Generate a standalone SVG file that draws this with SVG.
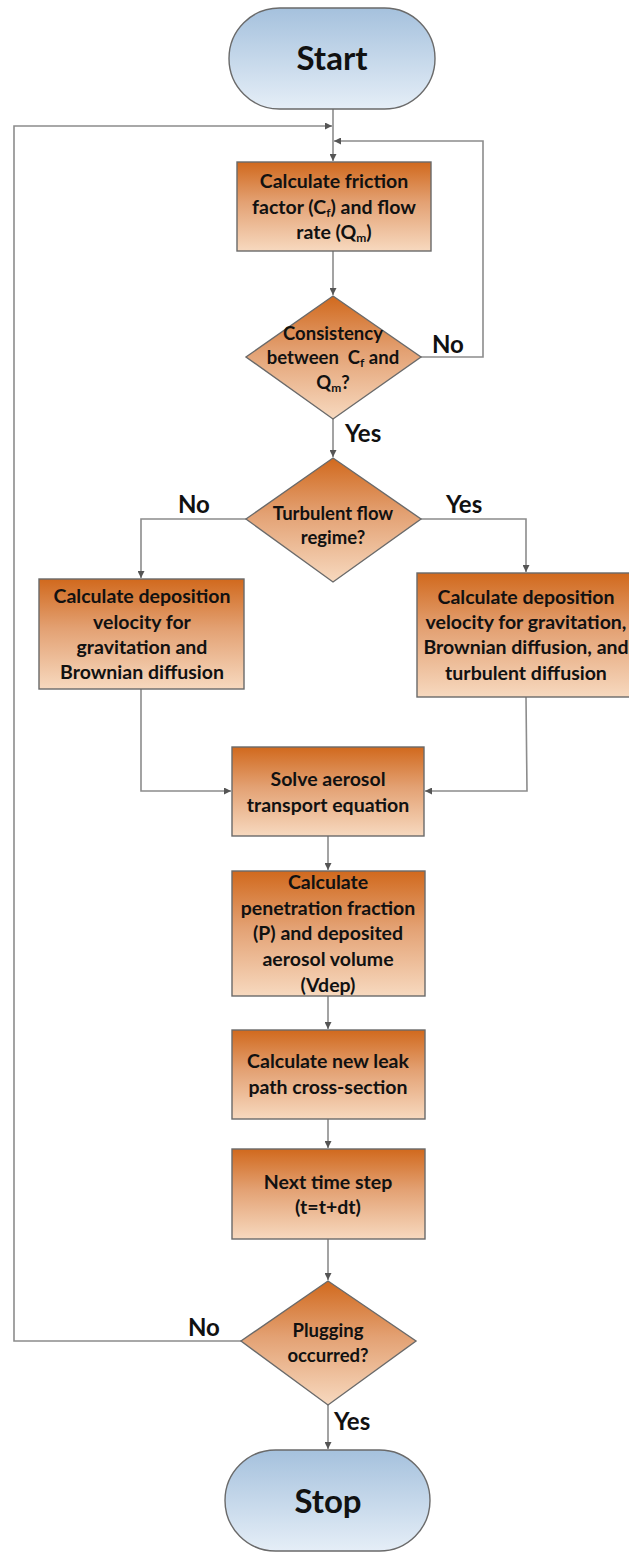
<svg xmlns="http://www.w3.org/2000/svg" width="629" height="1552" viewBox="0 0 629 1552">
<style>
.box{stroke:#6a6a6a;stroke-width:1.4;fill:url(#og)}
.term{stroke:#6a6a6a;stroke-width:1.4;fill:url(#bg)}
.t{font-family:Lato,"Liberation Sans",sans-serif;font-weight:bold;font-size:19.5px;fill:#111;text-anchor:middle}
.d{font-size:18.5px}
.big{font-size:33px}
.lbl{font-family:Lato,"Liberation Sans",sans-serif;font-weight:bold;font-size:24px;fill:#111}
.c{fill:none;stroke:#8c8c8c;stroke-width:1.6}
.sub{font-size:12px}
</style>
<defs>
<linearGradient id="og" x1="0" y1="0" x2="0" y2="1">
<stop offset="0" stop-color="#d1691d"/>
<stop offset="0.45" stop-color="#e3a173"/>
<stop offset="1" stop-color="#f7d9bf"/>
</linearGradient>
<linearGradient id="bg" x1="0" y1="0" x2="0" y2="1">
<stop offset="0" stop-color="#a5c1dd"/>
<stop offset="1" stop-color="#e5eef7"/>
</linearGradient>
<marker id="ah" viewBox="0 0 10 10" refX="10" refY="5" markerWidth="7" markerHeight="7" markerUnits="userSpaceOnUse" orient="auto">
<path d="M0,0 L10,5 L0,10 z" fill="#555"/>
</marker>
</defs>

<g id="connectors">
<path class="c" d="M333,109 V161" marker-end="url(#ah)"/>
<path class="c" d="M244,1341 H14 V126 H332" marker-end="url(#ah)"/>
<path class="c" d="M421,357 H483 V141 H334" marker-end="url(#ah)"/>
<path class="c" d="M333,251 V295" marker-end="url(#ah)"/>
<path class="c" d="M333,419 V457" marker-end="url(#ah)"/>
<path class="c" d="M246,519 H141 V578" marker-end="url(#ah)"/>
<path class="c" d="M421,519 H526 V572" marker-end="url(#ah)"/>
<path class="c" d="M141,689 V791 H231" marker-end="url(#ah)"/>
<path class="c" d="M526,697 L527,791 H425" marker-end="url(#ah)"/>
<path class="c" d="M328,836 V870" marker-end="url(#ah)"/>
<path class="c" d="M328,996 V1029" marker-end="url(#ah)"/>
<path class="c" d="M328,1119 V1148" marker-end="url(#ah)"/>
<path class="c" d="M328,1239 V1280" marker-end="url(#ah)"/>
<path class="c" d="M328,1405 V1449" marker-end="url(#ah)"/>
<text class="lbl" x="432" y="353">No</text>
<text class="lbl" x="345" y="442">Yes</text>
<text class="lbl" x="178" y="513">No</text>
<text class="lbl" x="446" y="513">Yes</text>
<text class="lbl" x="188" y="1336">No</text>
<text class="lbl" x="334" y="1430">Yes</text>
</g>

<g id="start">
<rect class="term" x="229" y="8" width="206" height="101" rx="50.5"/>
<text class="t big" x="332" y="70">Start</text>
</g>

<g id="calc-friction">
<rect class="box" x="237" y="162" width="194" height="89"/>
<text class="t" x="334" y="188">Calculate friction</text>
<text class="t" x="334" y="214">factor (C<tspan class="sub" dy="3">f</tspan><tspan dy="-3">) and flow</tspan></text>
<text class="t" x="334" y="239">rate (Q<tspan class="sub" dy="3">m</tspan><tspan dy="-3">)</tspan></text>
</g>

<g id="consistency">
<polygon class="box" points="333,296 421,357 333,419 246,357"/>
<text class="t d" x="333" y="340">Consistency</text>
<text class="t d" x="333" y="364">between&#160; C<tspan class="sub" dy="3">f</tspan><tspan dy="-3"> and</tspan></text>
<text class="t d" x="333" y="389">Q<tspan class="sub" dy="3">m</tspan><tspan dy="-3">?</tspan></text>
</g>

<g id="turbulent">
<polygon class="box" points="333,458 421,519 333,582 246,519"/>
<text class="t d" x="333" y="520">Turbulent flow</text>
<text class="t d" x="333" y="544">regime?</text>
</g>

<g id="dep-laminar">
<rect class="box" x="39" y="579" width="205" height="110"/>
<text class="t" x="142" y="603">Calculate deposition</text>
<text class="t" x="142" y="629">velocity for</text>
<text class="t" x="142" y="654">gravitation and</text>
<text class="t" x="142" y="679">Brownian diffusion</text>
</g>

<g id="dep-turbulent">
<rect class="box" x="417" y="573" width="217" height="124"/>
<text class="t" x="526" y="604">Calculate deposition</text>
<text class="t" x="526" y="629">velocity for gravitation,</text>
<text class="t" x="526" y="654">Brownian diffusion, and</text>
<text class="t" x="526" y="680">turbulent diffusion</text>
</g>

<g id="solve">
<rect class="box" x="232" y="747" width="192" height="89"/>
<text class="t" x="328" y="786">Solve aerosol</text>
<text class="t" x="328" y="812">transport equation</text>
</g>

<g id="penetration">
<rect class="box" x="232" y="871" width="193" height="125"/>
<text class="t" x="328" y="889">Calculate</text>
<text class="t" x="328" y="915">penetration fraction</text>
<text class="t" x="328" y="940">(P) and deposited</text>
<text class="t" x="328" y="966">aerosol volume</text>
<text class="t" x="328" y="992">(Vdep)</text>
</g>

<g id="leak">
<rect class="box" x="232" y="1030" width="193" height="89"/>
<text class="t" x="328" y="1068">Calculate new leak</text>
<text class="t" x="328" y="1094">path cross-section</text>
</g>

<g id="next-step">
<rect class="box" x="232" y="1149" width="193" height="90"/>
<text class="t" x="328" y="1189">Next time step</text>
<text class="t" x="328" y="1214">(t=t+dt)</text>
</g>

<g id="plugging">
<polygon class="box" points="328,1281 416,1341 328,1405 241,1341"/>
<text class="t d" x="328" y="1337">Plugging</text>
<text class="t d" x="328" y="1362">occurred?</text>
</g>

<g id="stop">
<rect class="term" x="225" y="1450" width="205" height="101" rx="50.5"/>
<text class="t big" x="328" y="1513">Stop</text>
</g>
</svg>
